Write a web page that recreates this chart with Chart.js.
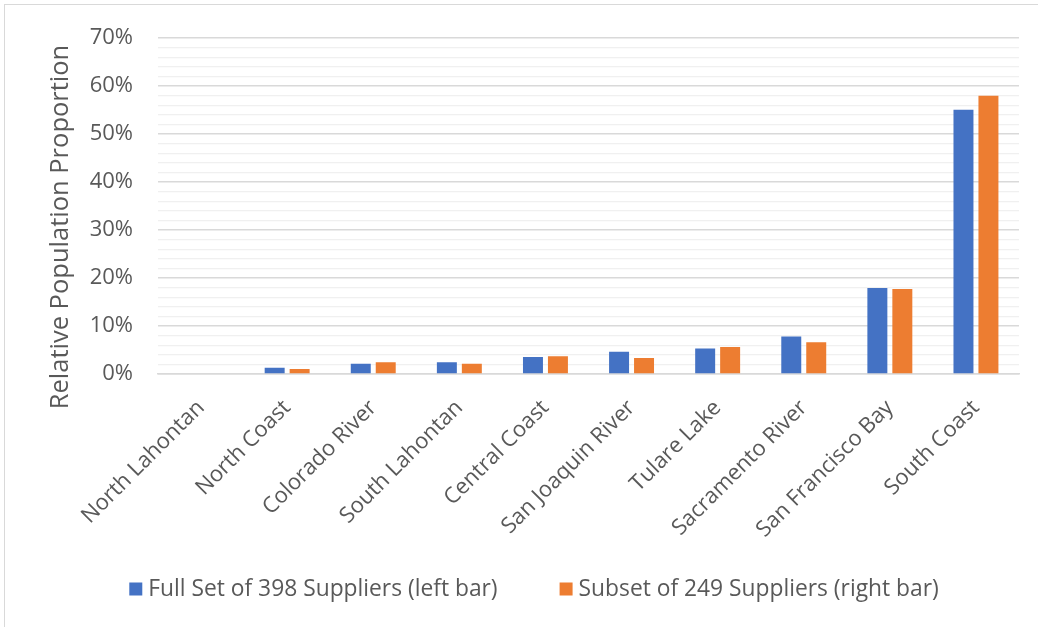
<!DOCTYPE html>
<html>
<head>
<meta charset="utf-8">
<script src="https://cdn.jsdelivr.net/npm/chart.js@4.4.1/dist/chart.umd.min.js"></script>
<style>
  html, body { margin: 0; padding: 0; background: #ffffff; }
  #wrap { position: relative; width: 1038px; height: 627px; }
  #frame { position: absolute; left: 4px; top: 4px; width: 1040px; height: 640px;
           border-left: 1px solid #d9d9d9; border-top: 1px solid #d9d9d9; pointer-events: none; }
  canvas { display: block; }
</style>
</head>
<body>
<div id="wrap">
  <canvas id="c" width="1038" height="627"></canvas>
  <div id="frame"></div>
</div>
<script>
const categories = ["North Lahontan", "North Coast", "Colorado River", "South Lahontan", "Central Coast",
  "San Joaquin River", "Tulare Lake", "Sacramento River", "San Francisco Bay", "South Coast"];
const fullSetValues = [0, 1.3, 2.1, 2.4, 3.5, 4.6, 5.3, 7.8, 17.9, 55.1];
const subsetValues = [0, 1.0, 2.4, 2.1, 3.7, 3.3, 5.6, 6.6, 17.7, 58.0];
const seriesNames = ["Full Set of 398 Suppliers (left bar)", "Subset of 249 Suppliers (right bar)"];
const yAxisTitle = "Relative Population Proportion";
const yTickMin = 0;
const yTickMax = 70;
const yMajorStep = 10;
const yMinorStep = 2;

const FONT = "'Open Sans', 'DejaVu Sans', sans-serif";
const TEXT = "#595959";

const extras = {
  id: 'extras',
  afterDraw(chart) {
    const ctx = chart.ctx;
    ctx.save();
    // y-axis title
    ctx.font = "25.5px " + FONT;
    ctx.fillStyle = TEXT;
    ctx.textAlign = 'center';
    ctx.textBaseline = 'middle';
    ctx.translate(61, 227);
    ctx.rotate(-Math.PI / 2);
    ctx.fillText(yAxisTitle, 0, 0);
    ctx.restore();

    // legend
    ctx.save();
    ctx.font = "22.8px " + FONT;
    ctx.textBaseline = 'middle';
    ctx.textAlign = 'left';
    const box = 13, gapText = 6, gapItems = 62;
    const items = chart.data.datasets.map(ds => ({ text: ds.label, color: ds.backgroundColor }));
    const widths = items.map(it => box + gapText + ctx.measureText(it.text).width);
    const total = widths.reduce((a, b) => a + b, 0) + gapItems * (items.length - 1);
    let x = (chart.width - total) / 2 + 15;
    const y = 589;
    items.forEach((it, i) => {
      ctx.fillStyle = it.color;
      ctx.fillRect(x, y - box / 2, box, box);
      ctx.fillStyle = TEXT;
      ctx.fillText(it.text, x + box + gapText, y + 1);
      x += widths[i] + gapItems;
    });
    ctx.restore();
  }
};

new Chart(document.getElementById('c'), {
  type: 'bar',
  data: {
    labels: categories,
    datasets: [
      { label: seriesNames[0], data: fullSetValues, backgroundColor: '#4472C4',
        categoryPercentage: 0.58, barPercentage: 0.8 },
      { label: seriesNames[1], data: subsetValues, backgroundColor: '#ED7D31',
        categoryPercentage: 0.58, barPercentage: 0.8 }
    ]
  },
  options: {
    responsive: false,
    animation: false,
    layout: { padding: { left: 10, right: 19, top: 24, bottom: 71 } },
    plugins: {
      legend: { display: false },
      tooltip: { enabled: false }
    },
    scales: {
      x: {
        grid: { display: false },
        border: { display: true, color: '#d9d9d9', width: 1.5 },
        ticks: {
          color: TEXT, font: { family: FONT, size: 22 },
          minRotation: 45, maxRotation: 45, padding: 13, autoSkip: false
        }
      },
      y: {
        min: yTickMin, max: yTickMax,
        afterFit: (axis) => { axis.width = 148; },
        border: { display: false },
        grid: {
          drawTicks: false,
          color: (c) => (c.tick && c.tick.value % yMajorStep === 0) ? '#d9d9d9' : '#f0f0f0',
          lineWidth: (c) => (c.tick && c.tick.value % yMajorStep === 0) ? 1.5 : 1.2
        },
        ticks: {
          stepSize: yMinorStep, autoSkip: false,
          color: TEXT, font: { family: FONT, size: 22 }, padding: 25,
          callback: (v) => (v % yMajorStep === 0) ? v + '%' : ''
        },
        title: { display: false, text: yAxisTitle }
      }
    }
  },
  plugins: [extras]
});
</script>
</body>
</html>
